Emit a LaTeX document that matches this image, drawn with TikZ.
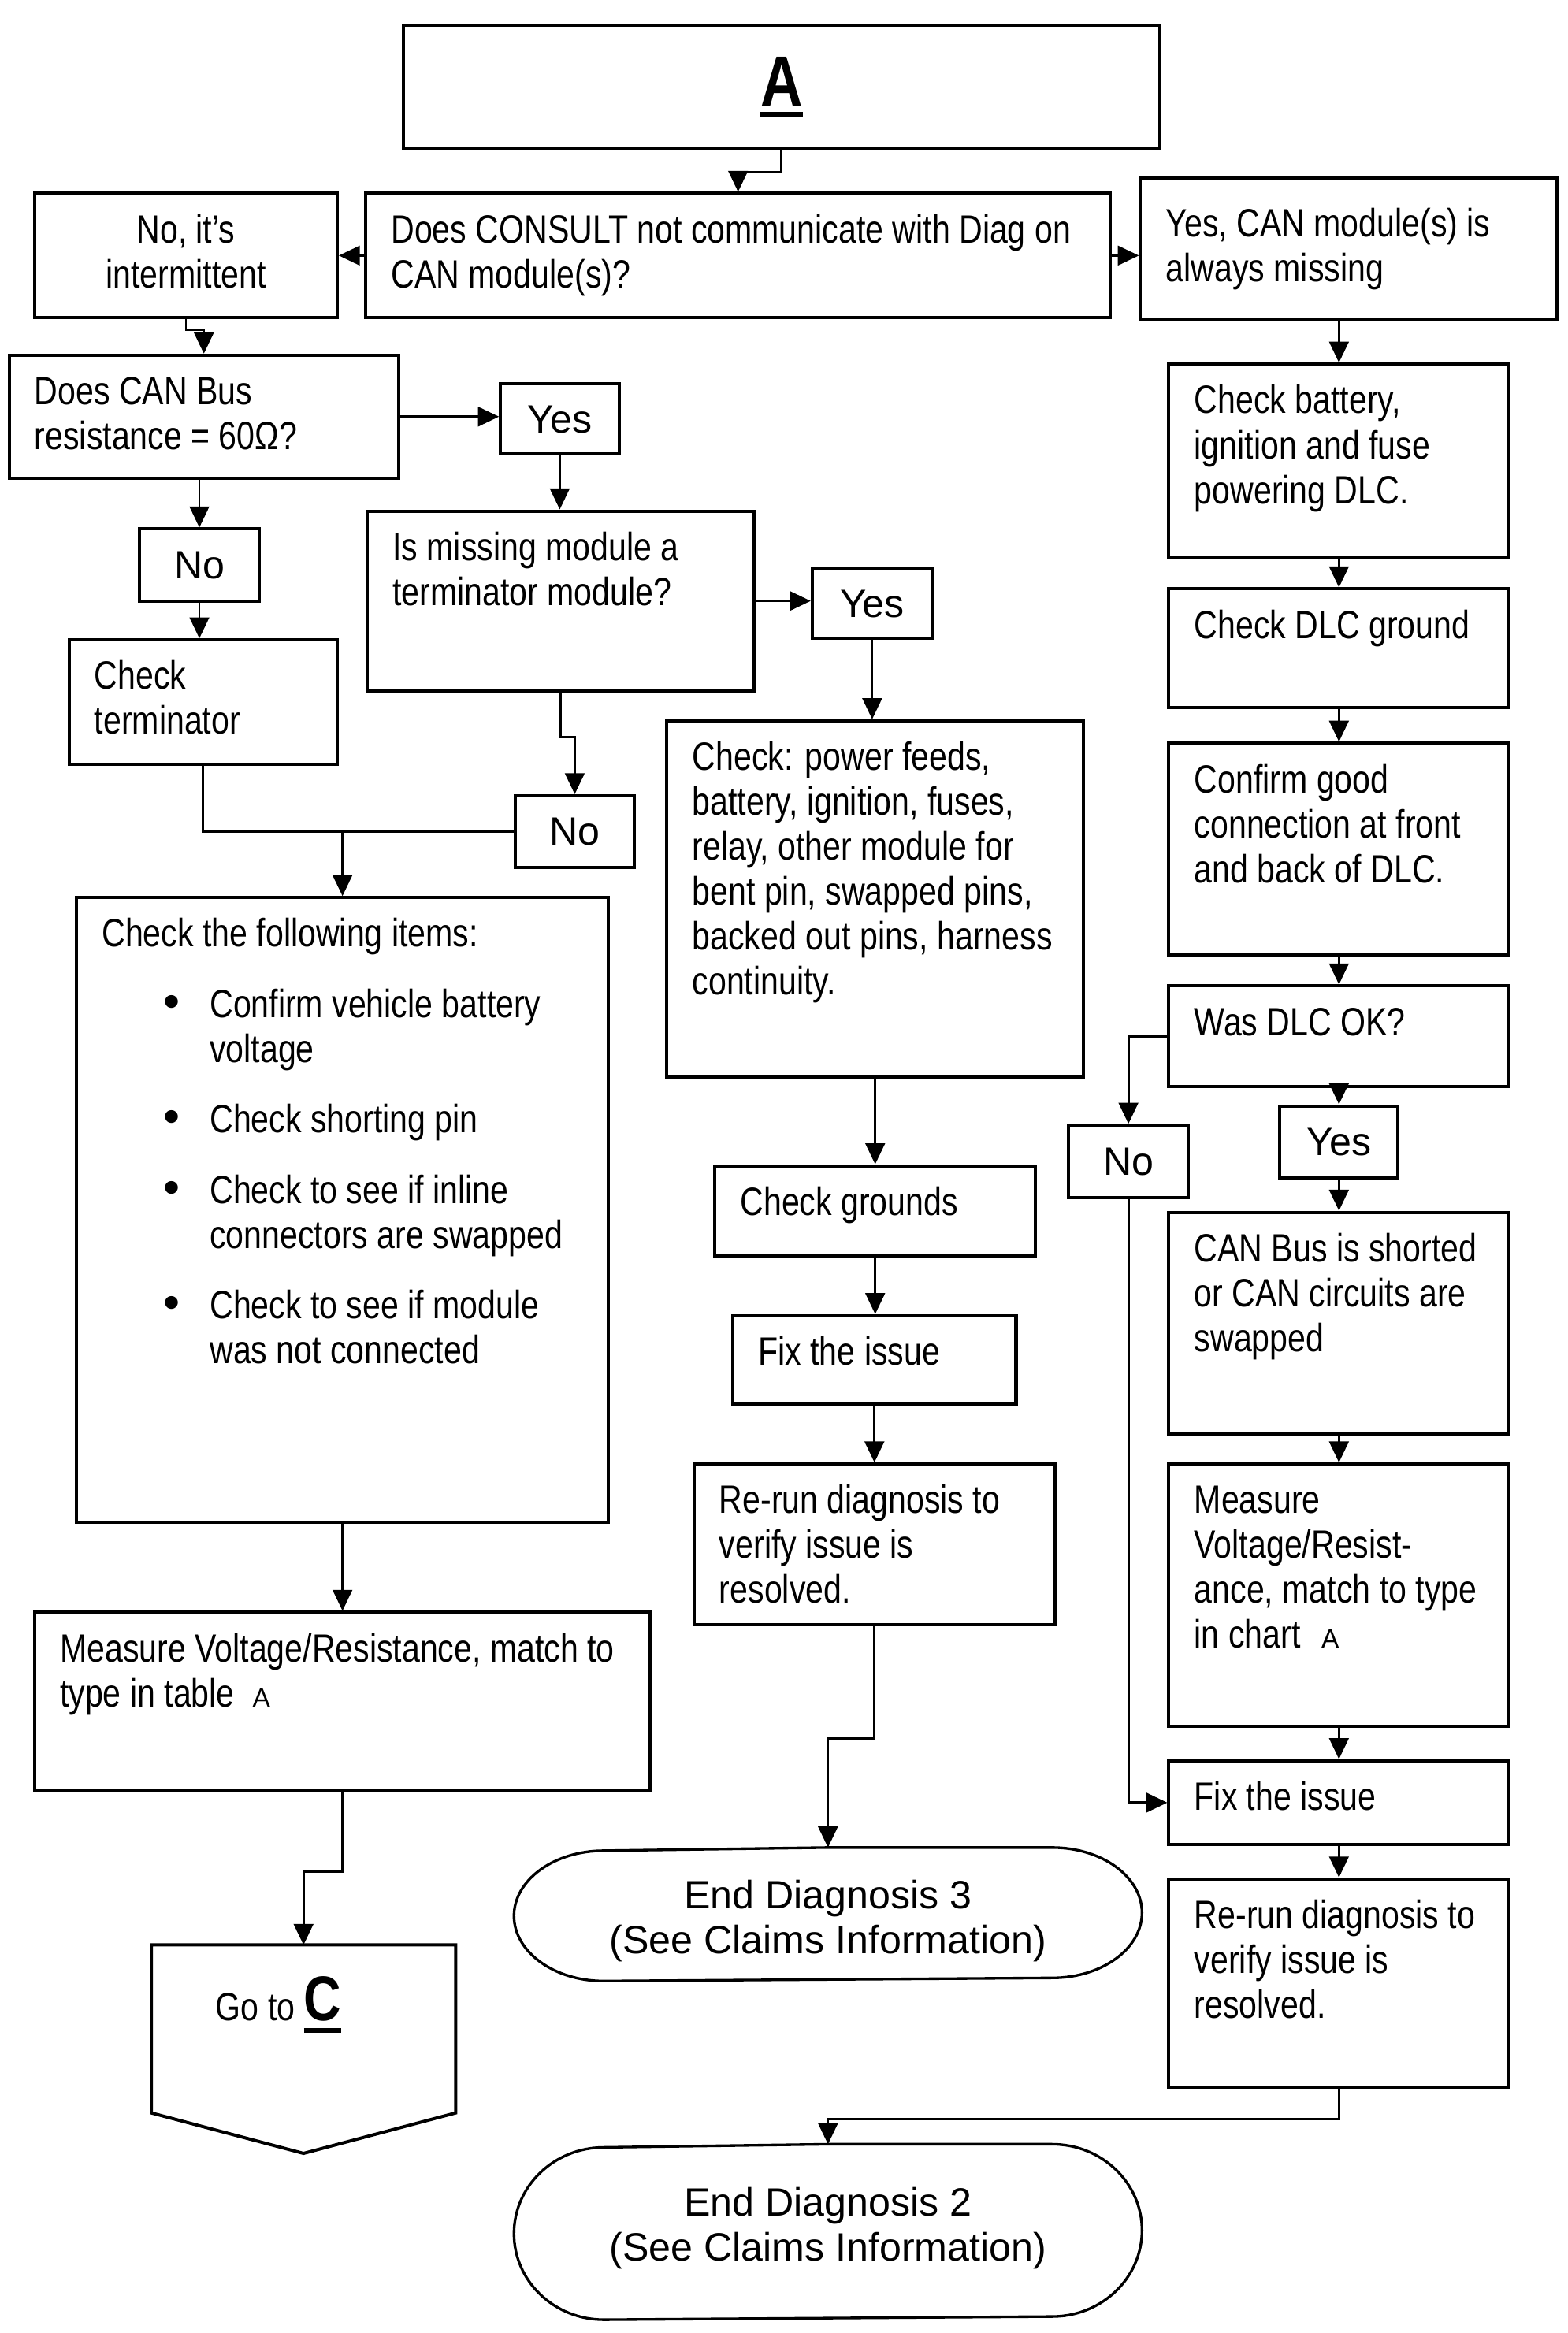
\documentclass[tikz,border=0pt]{standalone}
\usepackage{fontspec}
\usetikzlibrary{arrows.meta}
\newfontfamily\narrowsf{Liberation Sans}[FakeStretch=0.82]
\newfontfamily\widesf{Liberation Sans}
\newlength\pxu
\setlength\pxu{0.02cm}
\newsavebox\ulbox
\newcommand{\thickul}[2][6]{\sbox\ulbox{#2}\rlap{\rule[-#1\pxu]{\wd\ulbox}{3\pxu}}\usebox\ulbox}
\newcommand{\bx}[4][12]{\parbox[c][#3\pxu][t]{#2\pxu}{\raggedright\leftskip=17\pxu\relax\vspace*{#1\pxu}\strut#4}}
\newcommand{\cbx}[4][12]{\parbox[c][#3\pxu][t]{#2\pxu}{\centering\vspace*{#1\pxu}\strut#4}}
\newcommand{\smallA}{{\widesf\fontsize{10}{12}\selectfont A}}
\newcommand{\itemdot}{\hspace*{41\pxu}\makebox[31\pxu][l]{\widesf\fontsize{18}{17.07}\selectfont\textbullet}}

\begin{document}
\begin{tikzpicture}[x=0.02cm, y=-0.02cm,
    stepbox/.style={draw, line width=1.2pt, anchor=north west, inner sep=0pt, font=\narrowsf\fontsize{15}{17.07}\selectfont},
    wordbox/.style={stepbox, font=\widesf\fontsize{15}{17.07}\selectfont},
    shapebox/.style={stepbox, draw=none},
    outline/.style={line width=1pt},
    wire/.style={line width=0.85pt},
    conn/.style={wire, -{Triangle[length=0.28cm, width=0.26cm]}}]
    \path[fill=white, use as bounding box] (0,0) rectangle (1046,1557);

    \node[stepbox, minimum width=505\pxu, minimum height=82\pxu] (boxA) at (268,16) {\bfseries\fontsize{27}{30}\selectfont\thickul[7]{A}};
    \node[stepbox] (consult) at (243,128) {\bx{497}{83}{Does CONSULT not communicate with Diag on\\CAN module(s)?}};
    \node[stepbox] (intermit) at (22,128) {\cbx{202}{83}{No, it’s\\intermittent}};
    \node[stepbox] (yesmiss) at (760,118) {\bx[18]{278}{94}{Yes, CAN module(s) is\\always missing}};

    \node[stepbox] (canbus) at (5,236) {\bx{260}{82}{Does CAN Bus\\resistance = 60Ω?}};
    \node[wordbox] (yes1) at (333,255) {\cbx{79}{47}{Yes}};
    \node[stepbox] (term) at (244,340) {\bx{258}{120}{Is missing module a\\terminator module?}};
    \node[wordbox] (yes2) at (541,378) {\cbx{80}{47}{Yes}};
    \node[stepbox] (chkpower) at (444,480) {\bx{278}{238}{Check: power feeds,\\battery, ignition, fuses,\\relay, other module for\\bent pin, swapped pins,\\backed out pins, harness\\continuity.}};
    \node[wordbox] (no1) at (92,352) {\cbx{80}{48}{No}};
    \node[stepbox] (chkterm) at (45,426) {\bx{179}{83}{Check\\terminator}};
    \node[wordbox] (no2) at (343,530) {\cbx{79}{48}{No}};

    \node[stepbox] (items) at (50,598) {\bx{355}{417}{Check the following items:\\[17\pxu]
        \itemdot Confirm vehicle battery\\
        \hspace*{72\pxu}voltage\\[17\pxu]
        \itemdot Check shorting pin\\[17\pxu]
        \itemdot Check to see if inline\\
        \hspace*{72\pxu}connectors are swapped\\[17\pxu]
        \itemdot Check to see if module\\
        \hspace*{72\pxu}was not connected}};
    \node[stepbox] (measL) at (22,1075) {\bx{411}{119}{Measure Voltage/Resistance, match to\\type in table\hspace{12\pxu}\smallA}};
    \node[shapebox] (gotoC) at (101,1298) {\parbox[c][137\pxu][t]{201\pxu}{\vspace*{20\pxu}\hspace*{42\pxu}Go to {\bfseries\fontsize{24}{24}\selectfont\thickul[8]{C}}}};
    \draw[outline, line width=1.2pt] (gotoC.north west) -- (gotoC.north east) -- ([yshift=27\pxu]gotoC.south east) -- (gotoC.south) -- ([yshift=27\pxu]gotoC.south west) -- cycle;

    \node[stepbox] (grounds) at (476,777) {\bx{214}{60}{Check grounds}};
    \node[stepbox] (fixM) at (488,877) {\bx{189}{59}{Fix the issue}};
    \node[stepbox] (rerunM) at (462,976) {\bx{241}{107}{Re-run diagnosis to\\verify issue is\\resolved.}};
    \node[shapebox, font=\widesf\fontsize{15}{17.07}\selectfont] (end3) at (343,1233) {\cbx[19]{417}{87}{End Diagnosis 3\\(See Claims Information)}};
    \draw[outline] (end3.north) -- ([xshift=-60\pxu]end3.north east) arc[start angle=90, end angle=-90, x radius=60\pxu, y radius=43.5\pxu] -- ([xshift=60\pxu]end3.south west) arc[start angle=270, end angle=90, x radius=60\pxu, y radius=43.5\pxu] -- cycle;

    \node[stepbox] (battery) at (779,242) {\bx{227}{129}{Check battery,\\ignition and fuse\\powering DLC.}};
    \node[stepbox] (dlcgnd) at (779,392) {\bx{227}{79}{Check DLC ground}};
    \node[stepbox] (confirm) at (779,495) {\bx{227}{141}{Confirm good\\connection at front\\and back of DLC.}};
    \node[stepbox] (wasdlc) at (779,657) {\bx{227}{67}{Was DLC OK?}};
    \node[wordbox] (yes3) at (853,737) {\cbx{79}{48}{Yes}};
    \node[wordbox] (no3) at (712,750) {\cbx{80}{48}{No}};
    \node[stepbox] (shorted) at (779,808) {\bx{227}{148}{CAN Bus is shorted\\or CAN circuits are\\swapped}};
    \node[stepbox] (measR) at (779,976) {\bx{227}{175}{Measure\\Voltage/Resist-\\ance, match to type\\in chart\hspace{14\pxu}\smallA}};
    \node[stepbox] (fixR) at (779,1174) {\bx{227}{56}{Fix the issue}};
    \node[stepbox] (rerunR) at (779,1253) {\bx{227}{139}{Re-run diagnosis to\\verify issue is\\resolved.}};
    \node[shapebox, font=\widesf\fontsize{15}{17.07}\selectfont] (end2) at (343,1431) {\cbx[26]{417}{115}{End Diagnosis 2\\(See Claims Information)}};
    \draw[outline] (end2.north) -- ([xshift=-60\pxu]end2.north east) arc[start angle=90, end angle=-90, x radius=60\pxu, y radius=57.5\pxu] -- ([xshift=60\pxu]end2.south west) arc[start angle=270, end angle=90, x radius=60\pxu, y radius=57.5\pxu] -- cycle;

    \draw[conn] (boxA.south) -- ++(0,15) -| (consult.north);
    \draw[conn] (consult.west) -- (intermit.east);
    \draw[conn] (consult.east) -- (consult.east -| yesmiss.west);
    \draw[conn] (intermit.south) -- ++(0,7) -| (canbus.north);
    \draw[conn] (canbus.east) -- (canbus.east -| yes1.west);
    \draw[conn] (yes1.south) -- (yes1.south |- term.north);
    \draw[conn] (term.east) -- (term.east -| yes2.west);
    \draw[conn] (yes2.south) -- (yes2.south |- chkpower.north);
    \draw[conn] (term.south) -- ++(0,30) -| (no2.north);
    \draw[conn] (no1.north |- canbus.south) -- (no1.north);
    \draw[conn] (no1.south) -- (no1.south |- chkterm.north);
    \draw[wire] (chkterm.south) |- (no2.west);
    \draw[conn] (items.north |- no2.west) -- (items.north);
    \draw[conn] (items.south) -- (measL.north);
    \draw[conn] (measL.south) -- ++(0,53) -| (gotoC.north);
    \draw[conn] (chkpower.south) -- (chkpower.south |- grounds.north);
    \draw[conn] (grounds.south) -- (grounds.south |- fixM.north);
    \draw[conn] (fixM.south) -- (fixM.south |- rerunM.north);
    \draw[conn] (rerunM.south) -- ++(0,75) -| (end3.north);
    \draw[conn] (battery.north |- yesmiss.south) -- (battery.north);
    \draw[conn] (battery.south) -- (dlcgnd.north);
    \draw[conn] (dlcgnd.south) -- (confirm.north);
    \draw[conn] (confirm.south) -- (wasdlc.north);
    \draw[conn] (wasdlc.south) -- (yes3.north);
    \draw[conn] (yes3.south) -- (shorted.north);
    \draw[conn] (shorted.south) -- (measR.north);
    \draw[conn] (measR.south) -- (fixR.north);
    \draw[conn] (fixR.south) -- (rerunR.north);
    \draw[conn] (wasdlc.west) -| (no3.north);
    \draw[conn] (no3.south) |- (fixR.west);
    \draw[conn] (rerunR.south) -- ++(0,20) -| (end2.north);
\end{tikzpicture}
\end{document}
